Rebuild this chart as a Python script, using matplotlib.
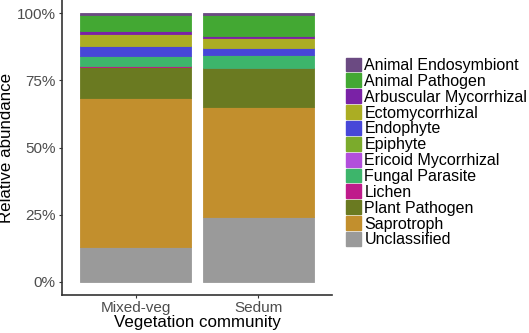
import numpy as np
import matplotlib.pyplot as plt
from matplotlib.patches import Patch

plt.rcParams["font.family"] = ["Liberation Sans", "DejaVu Sans"]

sites = ["Mixed-veg", "Sedum"]
guilds = ["Animal Endosymbiont", "Animal Pathogen", "Arbuscular Mycorrhizal",
          "Ectomycorrhizal", "Endophyte", "Epiphyte", "Ericoid Mycorrhizal",
          "Fungal Parasite", "Lichen", "Plant Pathogen", "Saprotroph",
          "Unclassified"]
# percent abundance per guild: [Mixed-veg, Sedum]
abund = {
    "Animal Endosymbiont": [0.5, 0.6],
    "Animal Pathogen": [6.0, 8.0],
    "Arbuscular Mycorrhizal": [1.3, 0.4],
    "Ectomycorrhizal": [4.4, 3.8],
    "Endophyte": [3.5, 2.6],
    "Epiphyte": [0.1, 0.1],
    "Ericoid Mycorrhizal": [0.1, 0.1],
    "Fungal Parasite": [3.7, 4.6],
    "Lichen": [0.5, 0.3],
    "Plant Pathogen": [11.6, 14.5],
    "Saprotroph": [55.5, 40.9],
    "Unclassified": [12.8, 24.1],
}
colors = {
    "Animal Endosymbiont": "#6b4a82",
    "Animal Pathogen": "#43a833",
    "Arbuscular Mycorrhizal": "#7a22a6",
    "Ectomycorrhizal": "#abad23",
    "Endophyte": "#4747d8",
    "Epiphyte": "#7bab2c",
    "Ericoid Mycorrhizal": "#b24fdc",
    "Fungal Parasite": "#3db56b",
    "Lichen": "#bf1b8b",
    "Plant Pathogen": "#6a7a21",
    "Saprotroph": "#c28f2d",
    "Unclassified": "#9a9a9a",
}


def main():
    fig = plt.figure(figsize=(5.29, 3.33), dpi=100)
    ax = fig.add_axes([62 / 529, 38 / 333, (332 - 62) / 529, 1 - 38 / 333])
    x = np.arange(1, len(sites) + 1)
    bottom = np.zeros(len(sites))
    for g in guilds[::-1]:
        vals = np.array(abund[g]) / 100
        ax.bar(x, vals, width=0.9, bottom=bottom, color=colors[g],
               edgecolor=colors[g], linewidth=0.6)
        bottom += vals
    ax.set_xlim(0.4, 2.6)
    ax.set_ylim(-0.05, 1.05)
    ax.set_xticks(x)
    ax.set_xticklabels(sites)
    ax.set_yticks([0, 0.25, 0.5, 0.75, 1.0])
    ax.set_yticklabels(["0%", "25%", "50%", "75%", "100%"])
    ax.tick_params(labelsize=11, colors="#333333", labelcolor="#4d4d4d",
                   length=2.5, width=0.8, pad=2)
    for s in ["top", "right"]:
        ax.spines[s].set_visible(False)
    for s in ["left", "bottom"]:
        ax.spines[s].set_color("#333333")
        ax.spines[s].set_linewidth(1.2)
    ax.set_xlabel("Vegetation community", fontsize=12.2, labelpad=0)
    ax.set_ylabel("Relative abundance", fontsize=12.2, labelpad=2)

    handles = [Patch(facecolor=colors[g], edgecolor=colors[g]) for g in guilds]
    fig.legend(handles, guilds, loc="center left", bbox_to_anchor=(346 / 529, 0.542),
               frameon=False, fontsize=11.5, handlelength=0.95, handleheight=0.95,
               handletextpad=0.2, labelspacing=0.03, borderaxespad=0,
               borderpad=0)
    fig.savefig("out.png", dpi=100)


if __name__ == "__main__":
    main()
